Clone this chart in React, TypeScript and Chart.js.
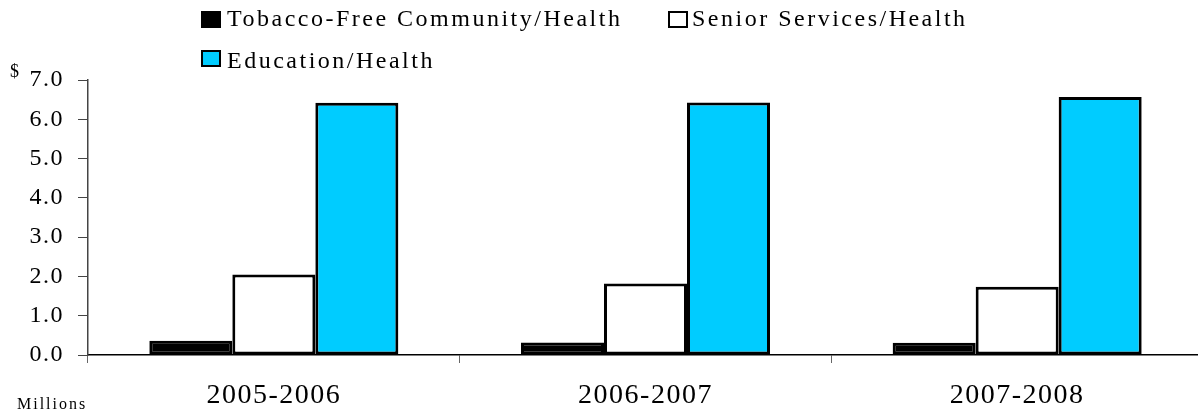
import React, { useEffect, useRef } from "react";
import { Chart, registerables } from "chart.js";

Chart.register(...registerables);

const categories = ["2005-2006", "2006-2007", "2007-2008"];
const tobaccoFree = [0.36, 0.32, 0.31];
const seniorServices = [2.05, 1.82, 1.74];
const education = [6.42, 6.43, 6.57];
const seriesLabels = ["Tobacco-Free Community/Health", "Senior Services/Health", "Education/Health"];
const seriesColors = ["#000000", "#ffffff", "#00ccff"];

const FONT = "'Liberation Serif', 'Times New Roman', serif";
const CANVAS_SPACING = "1.5px";
const LEGEND_SPACING = "2.5px";

const spacingPlugin = {
  id: "spacing",
  beforeDraw(chart: any) {
    (chart.ctx as any).letterSpacing = CANVAS_SPACING;
  },
  afterDraw(chart: any) {
    (chart.ctx as any).letterSpacing = "0px";
  },
};

export default function App() {
  const ref = useRef<HTMLCanvasElement | null>(null);
  useEffect(() => {
    if (!ref.current) return;
    const datasets = [tobaccoFree, seniorServices, education].map((d, i) => ({
      label: seriesLabels[i],
      data: d,
      backgroundColor: seriesColors[i],
      borderColor: "#000000",
      borderWidth: 3,
      borderSkipped: false as const,
      barPercentage: 1,
      categoryPercentage: 0.67,
    }));
    const chart = new Chart(ref.current, {
      type: "bar",
      data: { labels: categories, datasets },
      options: {
        animation: false,
        responsive: true,
        maintainAspectRatio: false,
        layout: { padding: { top: 80, left: 0, right: 0, bottom: 0 } },
        plugins: { legend: { display: false }, tooltip: { enabled: false } },
        scales: {
          x: {
            grid: { drawOnChartArea: false, tickLength: 8, color: "#666666", offset: true },
            border: { color: "#000000", width: 1.5 },
            ticks: { color: "#000000", font: { family: FONT, size: 28 }, padding: 16 },
            afterFit(scale: any) {
              scale.height = 60;
            },
          },
          y: {
            min: 0,
            max: 7,
            grid: { drawOnChartArea: false, tickLength: 10, color: "#444444" },
            border: { color: "#444444", width: 1.5 },
            ticks: {
              stepSize: 1,
              color: "#000000",
              font: { family: FONT, size: 24 },
              padding: 14,
              callback: (v: any) => Number(v).toFixed(1),
            },
            afterFit(scale: any) {
              scale.width = 88;
            },
          },
        },
      },
      plugins: [spacingPlugin],
    });
    return () => chart.destroy();
  }, []);

  const textStyle: React.CSSProperties = {
    position: "absolute",
    fontFamily: FONT,
    fontSize: 24,
    lineHeight: "24px",
    letterSpacing: LEGEND_SPACING,
    color: "#000",
    whiteSpace: "nowrap",
  };
  const box = (left: number, top: number, color: string): React.CSSProperties => ({
    position: "absolute",
    left,
    top,
    width: 20,
    height: 17,
    boxSizing: "border-box",
    border: "2.5px solid #000",
    background: color,
  });

  return (
    <div style={{ position: "absolute", left: 0, top: 0, width: 1198, height: 415, overflow: "hidden", background: "#fff" }}>
      <div style={{ position: "absolute", left: 0, top: 0, width: 1203, height: 415 }}>
        <canvas ref={ref} />
      </div>
      <div style={box(201, 11, seriesColors[0])} />
      <div style={{ ...textStyle, left: 227, top: 6 }}>{seriesLabels[0]}</div>
      <div style={box(668, 11, seriesColors[1])} />
      <div style={{ ...textStyle, left: 692, top: 6 }}>{seriesLabels[1]}</div>
      <div style={box(201, 50, seriesColors[2])} />
      <div style={{ ...textStyle, left: 227, top: 48 }}>{seriesLabels[2]}</div>
      <div style={{ ...textStyle, left: 10, top: 62, fontSize: 18, lineHeight: "18px", letterSpacing: "0px" }}>$</div>
      <div style={{ ...textStyle, left: 17, top: 396, fontSize: 16, lineHeight: "16px", letterSpacing: "2px" }}>Millions</div>
    </div>
  );
}
